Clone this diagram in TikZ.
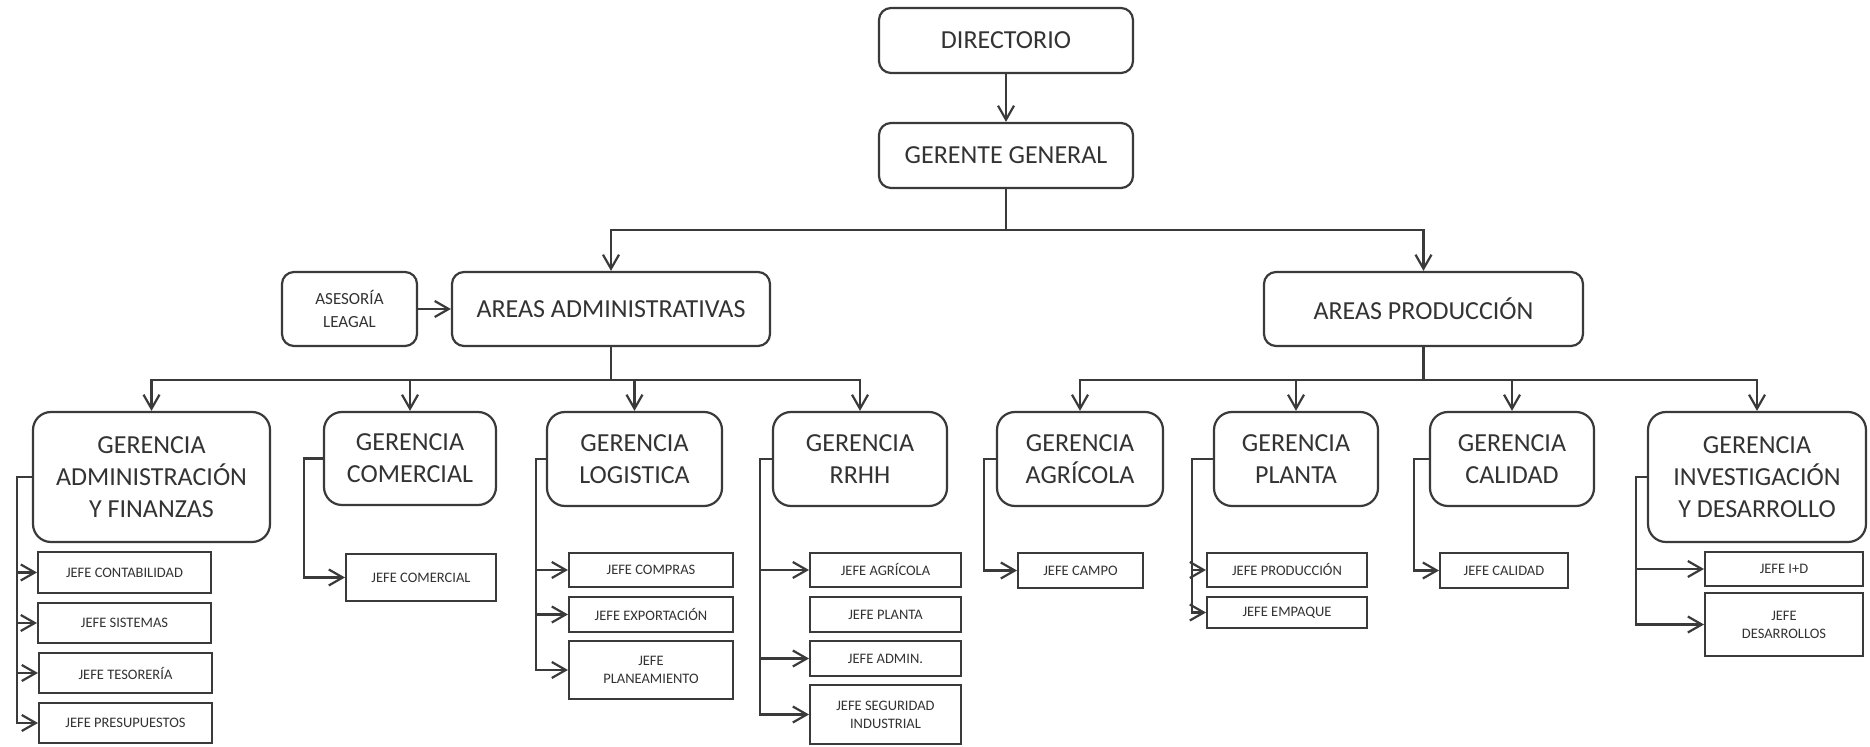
\documentclass[tikz,border=0pt]{standalone}
\usepackage{fontspec}
\setmainfont{Carlito}
\usetikzlibrary{arrows.meta}
\definecolor{lc}{HTML}{3A3A3A}
\definecolor{tx}{HTML}{333333}
\begin{document}
\begin{tikzpicture}[x=0.5pt,y=-0.5pt,
  base/.style={draw=lc, line width=1.1pt, inner sep=0pt, align=center, fill=white, text=tx},
  topbox/.style={base, rounded corners=6pt, font=\fontsize{13}{16}\selectfont},
  gerbox/.style={base, rounded corners=9pt, font=\fontsize{13}{16}\selectfont},
  asebox/.style={base, rounded corners=6pt, font=\fontsize{8.5}{11.5}\selectfont},
  jefebox/.style={base, line width=1pt, font=\fontsize{7.25}{9}\selectfont},
  arr/.style={draw=lc, line width=1.1pt, -{Straight Barb[length=7pt,width=8pt]}}]
\useasboundingbox (0,0) rectangle (1870,747);
\fill[white] (0,0) rectangle (1870,747);

% top levels
\node[topbox, minimum width=127pt, minimum height=32.5pt] (dir) at (1006,40.5) {DIRECTORIO};
\node[topbox, minimum width=127pt, minimum height=32.5pt] (gg) at (1006,155.5) {GERENTE GENERAL};
\node[asebox, minimum width=67.5pt, minimum height=37pt] (ase) at (349.5,309) {ASESORÍA\\LEAGAL};
\node[topbox, minimum width=159pt, minimum height=37pt] (aadm) at (611,309) {AREAS ADMINISTRATIVAS};
\node[topbox, minimum width=159.5pt, minimum height=37pt] (aprod) at (1423.5,309) {AREAS PRODUCCIÓN};

% gerencias
\node[gerbox, minimum width=118.5pt, minimum height=65pt] (gAdm) at (151.5,477) {GERENCIA\\ADMINISTRACIÓN\\Y FINANZAS};
\node[gerbox, minimum width=86pt, minimum height=46.5pt] (gCom) at (410,458.5) {GERENCIA\\COMERCIAL};
\node[gerbox, minimum width=87.5pt, minimum height=47pt] (gLog) at (634.5,459) {GERENCIA\\LOGISTICA};
\node[gerbox, minimum width=87pt, minimum height=47pt] (gRRHH) at (860,459) {GERENCIA\\RRHH};
\node[gerbox, minimum width=83pt, minimum height=47pt] (gAgr) at (1080,459) {GERENCIA\\AGRÍCOLA};
\node[gerbox, minimum width=82pt, minimum height=47pt] (gPla) at (1296,459) {GERENCIA\\PLANTA};
\node[gerbox, minimum width=82pt, minimum height=47pt] (gCal) at (1512,459) {GERENCIA\\CALIDAD};
\node[gerbox, minimum width=109pt, minimum height=65pt] (gID) at (1757,477) {GERENCIA\\INVESTIGACIÓN\\Y DESARROLLO};

% jefes
\node[jefebox, minimum width=86.5pt, minimum height=20.5pt] (jCont) at (124.5,572.5) {JEFE CONTABILIDAD};
\node[jefebox, minimum width=86.5pt, minimum height=20pt] (jSis) at (124.5,623) {JEFE SISTEMAS};
\node[jefebox, minimum width=86.5pt, minimum height=20pt] (jTes) at (125.5,673) {JEFE TESORERÍA};
\node[jefebox, minimum width=86.5pt, minimum height=20pt] (jPre) at (125.5,723) {JEFE PRESUPUESTOS};
\node[jefebox, minimum width=75pt, minimum height=23.5pt] (jCom) at (421,577.5) {JEFE COMERCIAL};
\node[jefebox, minimum width=82pt, minimum height=17pt] (jCompras) at (651,570) {JEFE COMPRAS};
\node[jefebox, minimum width=82pt, minimum height=17.5pt] (jExp) at (651,614.5) {JEFE EXPORTACIÓN};
\node[jefebox, minimum width=82pt, minimum height=29pt] (jPlan) at (651,670) {JEFE\\PLANEAMIENTO};
\node[jefebox, minimum width=75.5pt, minimum height=17pt] (jAgrR) at (885.5,570) {JEFE AGRÍCOLA};
\node[jefebox, minimum width=75.5pt, minimum height=17.5pt] (jPlaR) at (885.5,614.5) {JEFE PLANTA};
\node[jefebox, minimum width=75.5pt, minimum height=17.5pt] (jAdmin) at (885.5,658.5) {JEFE ADMIN.};
\node[jefebox, minimum width=75.5pt, minimum height=29.5pt] (jSeg) at (885.5,714.5) {JEFE SEGURIDAD\\INDUSTRIAL};
\node[jefebox, minimum width=62.5pt, minimum height=17.5pt] (jCampo) at (1080.5,570.5) {JEFE CAMPO};
\node[jefebox, minimum width=80pt, minimum height=17pt] (jProd) at (1287,570) {JEFE PRODUCCIÓN};
\node[jefebox, minimum width=80pt, minimum height=15.5pt] (jEmp) at (1287,612.5) {JEFE EMPAQUE};
\node[jefebox, minimum width=64pt, minimum height=17.5pt] (jCal) at (1504,570.5) {JEFE CALIDAD};
\node[jefebox, minimum width=79pt, minimum height=17pt] (jID) at (1784,569) {JEFE I+D};
\node[jefebox, minimum width=79pt, minimum height=31.5pt] (jDes) at (1784,624.5) {JEFE\\DESARROLLOS};

% trunk x positions
\coordinate (tA) at (17,0);
\coordinate (tC) at (304,0);
\coordinate (tL) at (536,0);
\coordinate (tR) at (760,0);
\coordinate (tG) at (984,0);
\coordinate (tP) at (1192,0);
\coordinate (tQ) at (1414,0);
\coordinate (tI) at (1636,0);

% upper connectors
\draw[arr] (dir) -- (gg);
\draw[arr] (gg.south) -- ++(0,41) -| (aadm.north);
\draw[arr] (gg.south) -- ++(0,41) -| (aprod.north);
\draw[arr] (ase) -- (aadm);

% admin bus
\foreach \n in {gAdm,gCom,gLog,gRRHH}
  \draw[arr] (aadm.south) -- ++(0,33) -| (\n.north);
% production bus
\foreach \n in {gAgr,gPla,gCal,gID}
  \draw[arr] (aprod.south) -- ++(0,33) -| (\n.north);

% side branches
\foreach \j in {jCont,jSis,jTes,jPre}
  \draw[arr] (gAdm.west) -- (gAdm.west -| tA) |- (\j.west);
\draw[arr] (gCom.west) -- (gCom.west -| tC) |- (jCom.west);
\foreach \j in {jCompras,jExp,jPlan}
  \draw[arr] (gLog.west) -- (gLog.west -| tL) |- (\j.west);
\foreach \j in {jAgrR,jAdmin,jSeg}
  \draw[arr] (gRRHH.west) -- (gRRHH.west -| tR) |- (\j.west);
\draw[arr] (gAgr.west) -- (gAgr.west -| tG) |- (jCampo.west);
\foreach \j in {jProd,jEmp}
  \draw[arr] (gPla.west) -- (gPla.west -| tP) |- (\j.west);
\draw[arr] (gCal.west) -- (gCal.west -| tQ) |- (jCal.west);
\foreach \j in {jID,jDes}
  \draw[arr] (gID.west) -- (gID.west -| tI) |- (\j.west);
\end{tikzpicture}
\end{document}
